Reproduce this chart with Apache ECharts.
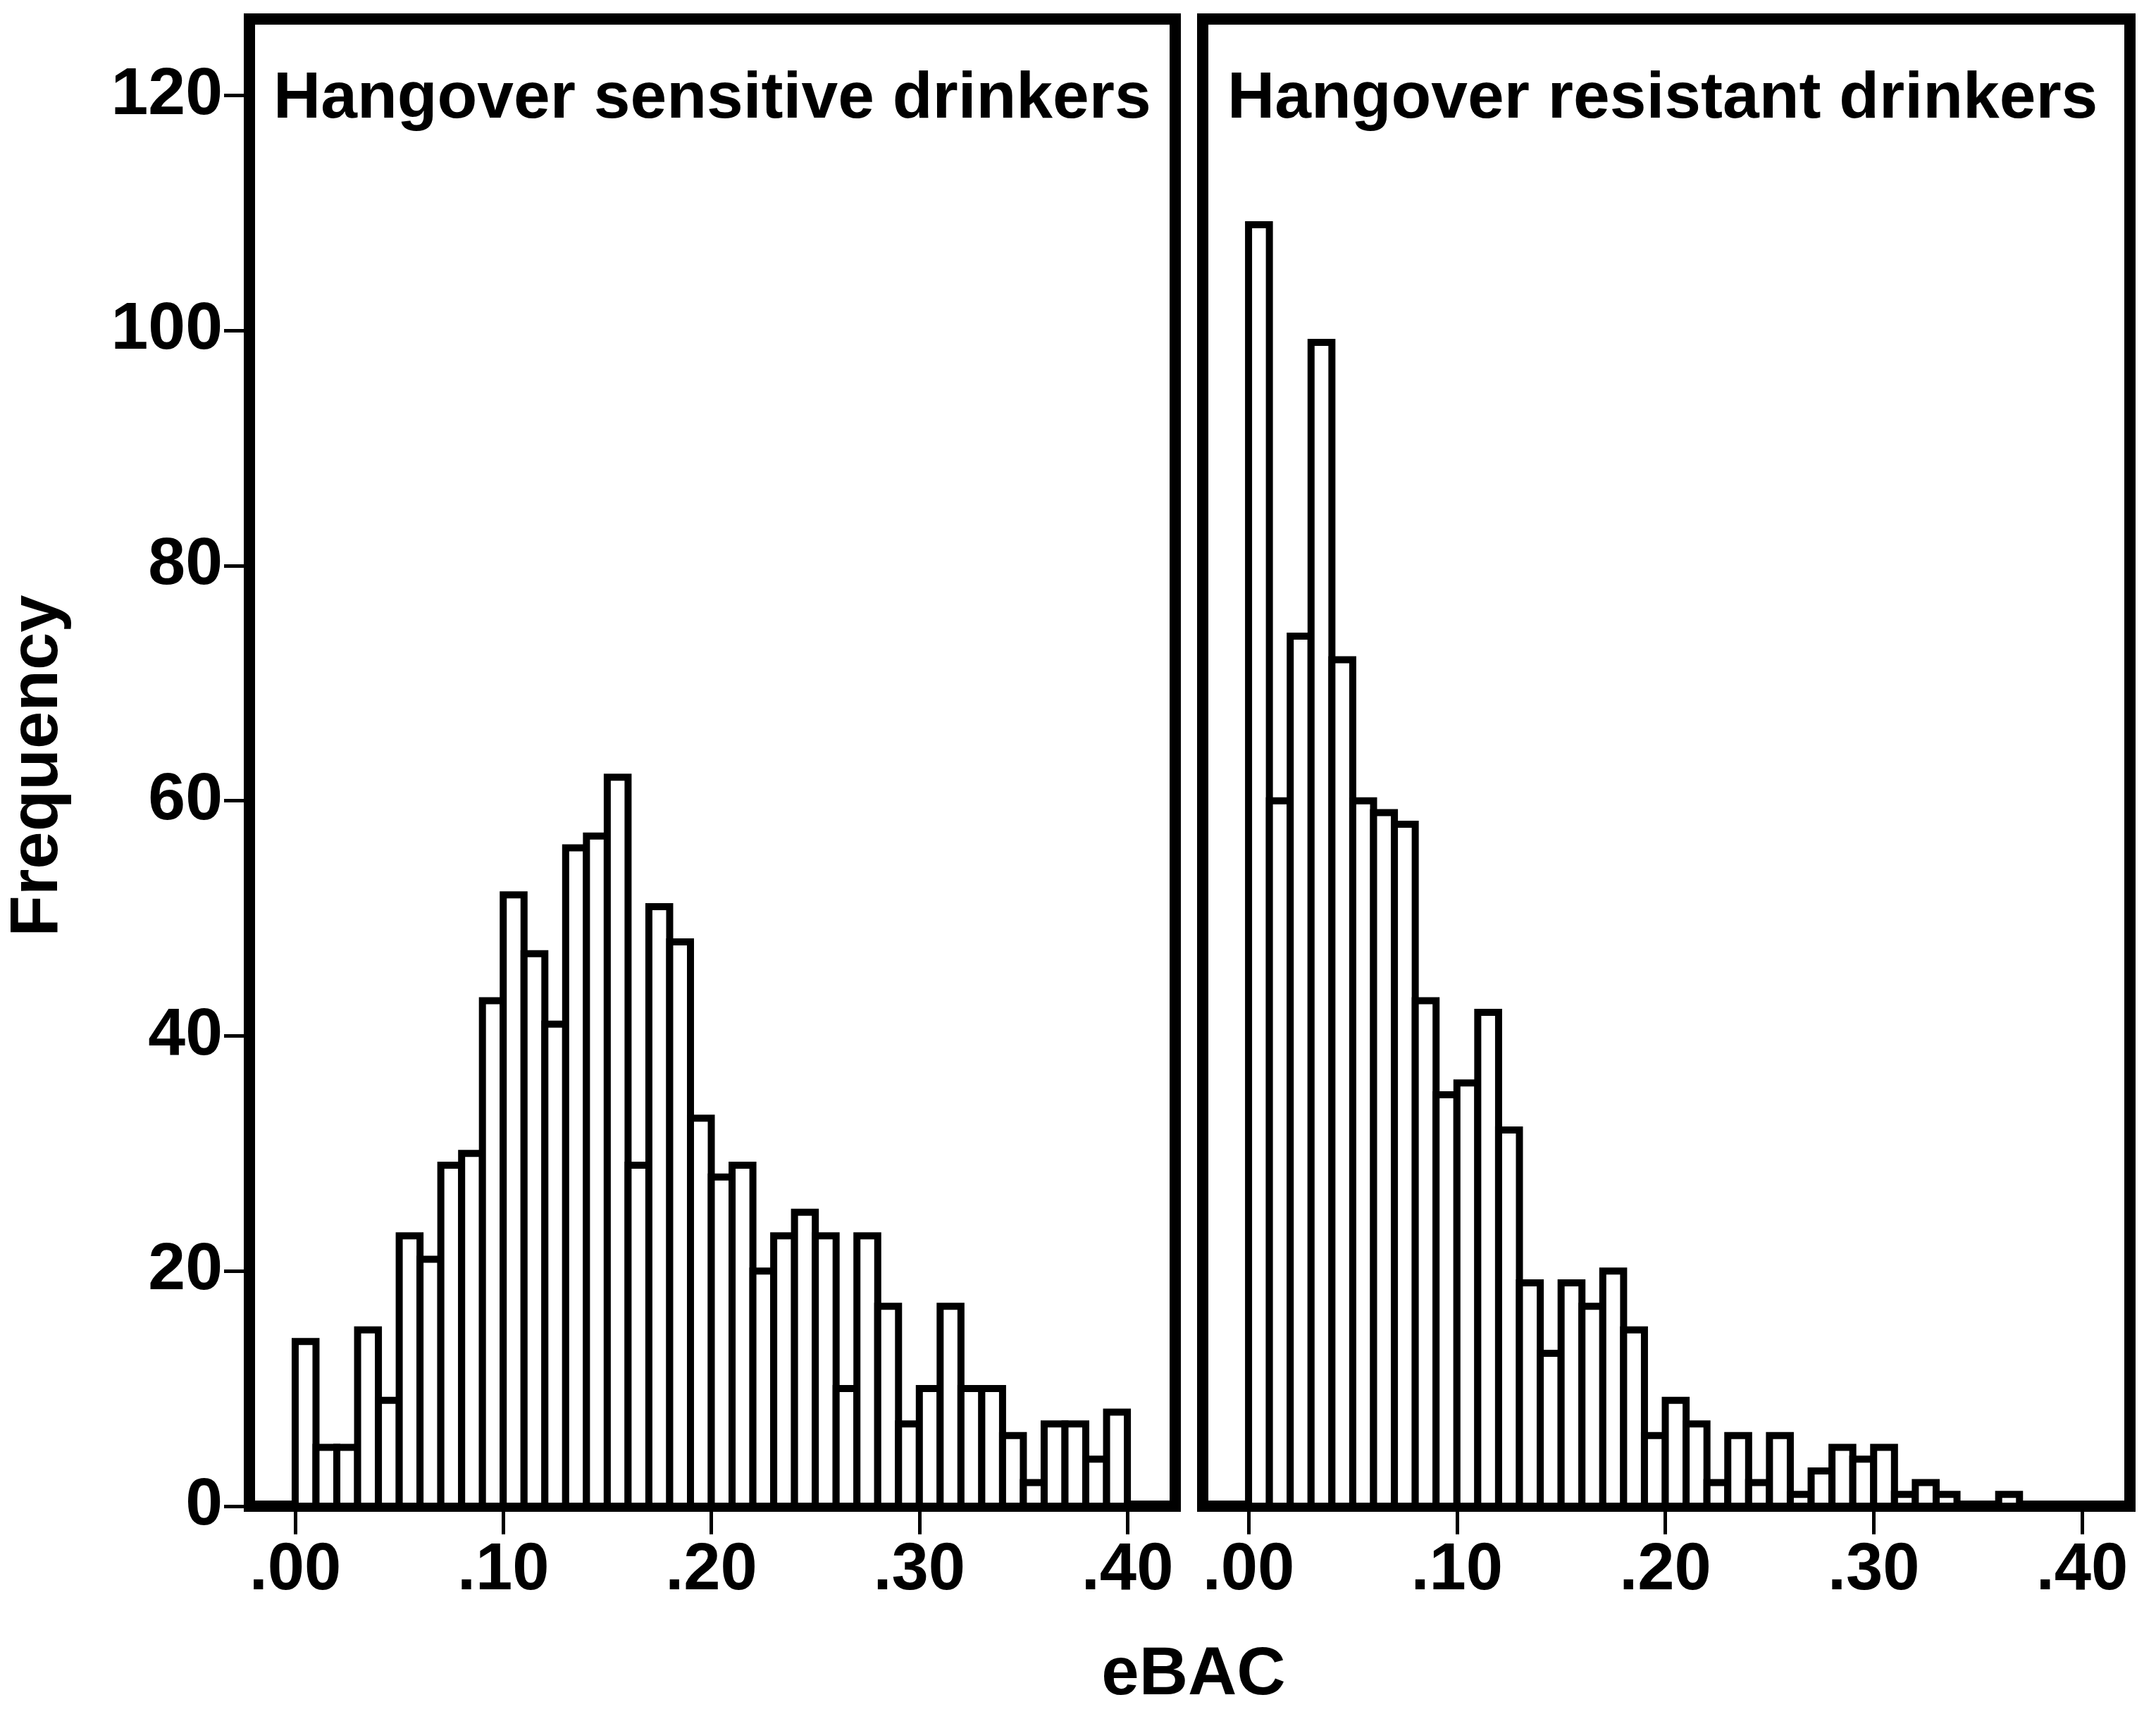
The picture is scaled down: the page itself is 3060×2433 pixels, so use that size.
<!DOCTYPE html>
<html>
<head>
<meta charset="utf-8">
<script src="https://cdn.jsdelivr.net/npm/echarts@6/dist/echarts.min.js"></script>
<style>
  html, body { margin: 0; padding: 0; background: #fff; }
  #chart { width: 3060px; height: 2433px; }
</style>
</head>
<body>
<div id="chart"></div>
<script>
// bin left edges (eBAC), width .01
const binStarts = [0.00, 0.01, 0.02, 0.03, 0.04, 0.05, 0.06, 0.07, 0.08, 0.09,
                   0.10, 0.11, 0.12, 0.13, 0.14, 0.15, 0.16, 0.17, 0.18, 0.19,
                   0.20, 0.21, 0.22, 0.23, 0.24, 0.25, 0.26, 0.27, 0.28, 0.29,
                   0.30, 0.31, 0.32, 0.33, 0.34, 0.35, 0.36, 0.37, 0.38, 0.39];
const binWidth = 0.01;

const sensitiveCounts = [14, 5, 5, 15, 9, 23, 21, 29, 30, 43,
                         52, 47, 41, 56, 57, 62, 29, 51, 48, 33,
                         28, 29, 20, 23, 25, 23, 10, 23, 17, 7,
                         10, 17, 10, 10, 6, 2, 7, 7, 4, 8];
const resistantCounts = [109, 60, 74, 99, 72, 60, 59, 58, 43, 35,
                         36, 42, 32, 19, 13, 19, 17, 20, 15, 6,
                         9, 7, 2, 6, 2, 6, 1, 3, 5, 4,
                         5, 1, 2, 1, 0, 0, 1, 0, 0, 0];

const xTicks = [0, 0.1, 0.2, 0.3, 0.4];
const yTicks = [0, 20, 40, 60, 80, 100, 120];
const panelTitles = ['Hangover sensitive drinkers', 'Hangover resistant drinkers'];

const FONT = "'Liberation Sans', Arial, sans-serif";

function renderBin(params, api) {
  const x0 = api.value(0);
  const h = api.value(1);
  if (!h) return null;
  const top = api.coord([x0, h]);
  const bottom = api.coord([x0 + binWidth, 0]);
  return {
    type: 'rect',
    shape: { x: top[0], y: top[1], width: bottom[0] - top[0], height: bottom[1] - top[1] },
    style: { fill: '#fff', stroke: '#000', lineWidth: 10 }
  };
}

function xAxisFor(i) {
  return {
    type: 'value',
    gridIndex: i,
    min: -0.022,
    max: 0.423,
    splitLine: { show: false },
    axisLine: { show: false, onZero: false },
    axisTick: {
      show: true,
      customValues: xTicks,
      length: 40,
      lineStyle: { color: '#000', width: 5 }
    },
    axisLabel: {
      customValues: xTicks,
      formatter: v => v.toFixed(2).replace(/^0/, ''),
      fontFamily: FONT,
      fontSize: 94,
      fontWeight: 'bold',
      color: '#000',
      margin: 45
    }
  };
}

const chart = echarts.init(document.getElementById('chart'));

chart.setOption({
  backgroundColor: '#fff',
  animation: false,
  grid: [
    { left: 354, top: 27, width: 1314, height: 2111, show: true, borderColor: '#000', borderWidth: 16,
      containLabel: false, outerBoundsMode: 'none' },
    { left: 1707, top: 27, width: 1316, height: 2111, show: true, borderColor: '#000', borderWidth: 16,
      containLabel: false, outerBoundsMode: 'none' }
  ],
  xAxis: [xAxisFor(0), xAxisFor(1)],
  yAxis: [
    {
      type: 'value',
      gridIndex: 0,
      min: 0,
      max: 126.5,
      splitLine: { show: false },
      axisLine: { show: false, onZero: false },
      axisTick: {
        show: true,
        customValues: yTicks,
        length: 36,
        lineStyle: { color: '#000', width: 5 }
      },
      axisLabel: {
        customValues: yTicks,
        fontFamily: FONT,
        fontSize: 95,
        fontWeight: 'bold',
        color: '#000',
        margin: 38
      }
    },
    {
      type: 'value',
      gridIndex: 1,
      min: 0,
      max: 126.5,
      splitLine: { show: false },
      axisLine: { show: false, onZero: false },
      axisTick: { show: false },
      axisLabel: { show: false }
    }
  ],
  series: [
    {
      type: 'custom',
      xAxisIndex: 0,
      yAxisIndex: 0,
      renderItem: renderBin,
      encode: { x: 0, y: 1 },
      data: binStarts.map((b, i) => [b, sensitiveCounts[i]])
    },
    {
      type: 'custom',
      xAxisIndex: 1,
      yAxisIndex: 1,
      renderItem: renderBin,
      encode: { x: 0, y: 1 },
      data: binStarts.map((b, i) => [b, resistantCounts[i]])
    }
  ],
  graphic: [
    {
      type: 'text', x: 388, y: 141, z: 100,
      style: { text: panelTitles[0], fontFamily: FONT, fontSize: 93, fontWeight: 'bold', fill: '#000', align: 'left', verticalAlign: 'middle' }
    },
    {
      type: 'text', x: 1742, y: 141, z: 100,
      style: { text: panelTitles[1], fontFamily: FONT, fontSize: 93, fontWeight: 'bold', fill: '#000', align: 'left', verticalAlign: 'middle' }
    },
    {
      type: 'text', x: 1694, y: 2379, z: 100,
      style: { text: 'eBAC', fontFamily: FONT, fontSize: 96, fontWeight: 'bold', fill: '#000', align: 'center', verticalAlign: 'middle' }
    },
    {
      type: 'text', x: 55, y: 1087, z: 100, rotation: Math.PI / 2,
      style: { text: 'Frequency', fontFamily: FONT, fontSize: 96, fontWeight: 'bold', fill: '#000', align: 'center', verticalAlign: 'middle' }
    }
  ]
});
</script>
</body>
</html>
